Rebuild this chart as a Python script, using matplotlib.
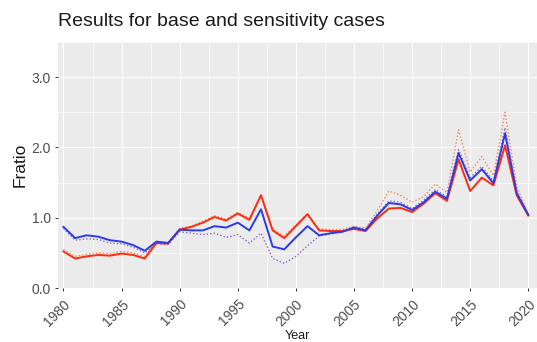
import matplotlib
matplotlib.use("Agg")
import matplotlib.pyplot as plt
from matplotlib.ticker import MultipleLocator

plt.rcParams['font.family'] = ['Liberation Sans', 'DejaVu Sans']

years = list(range(1980, 2021))

base_blue = [0.87, 0.71, 0.75, 0.73, 0.68, 0.66, 0.61, 0.53, 0.66, 0.64,
             0.83, 0.82, 0.82, 0.88, 0.86, 0.93, 0.82, 1.12, 0.59, 0.55,
             0.72, 0.88, 0.75, 0.78, 0.80, 0.86, 0.82, 1.03, 1.21, 1.19,
             1.11, 1.22, 1.37, 1.27, 1.92, 1.53, 1.69, 1.49, 2.20, 1.35,
             1.04]

base_red = [0.52, 0.42, 0.45, 0.47, 0.46, 0.49, 0.47, 0.42, 0.64, 0.63,
            0.83, 0.87, 0.93, 1.01, 0.96, 1.06, 0.97, 1.32, 0.82, 0.71,
            0.88, 1.05, 0.82, 0.81, 0.81, 0.84, 0.81, 0.99, 1.13, 1.14,
            1.08, 1.20, 1.35, 1.24, 1.83, 1.38, 1.57, 1.46, 2.03, 1.32,
            1.03]

sens_red = [0.55, 0.45, 0.48, 0.50, 0.49, 0.52, 0.50, 0.45, 0.66, 0.65,
            0.85, 0.88, 0.95, 1.03, 0.98, 1.08, 0.99, 1.33, 0.84, 0.74,
            0.90, 1.06, 0.84, 0.83, 0.83, 0.88, 0.85, 1.10, 1.38, 1.32,
            1.22, 1.30, 1.48, 1.36, 2.25, 1.65, 1.87, 1.60, 2.50, 1.45,
            1.05]

sens_blue = [0.85, 0.68, 0.70, 0.69, 0.64, 0.63, 0.58, 0.50, 0.63, 0.62,
             0.80, 0.78, 0.76, 0.78, 0.72, 0.76, 0.64, 0.78, 0.42, 0.35,
             0.45, 0.60, 0.74, 0.77, 0.80, 0.87, 0.84, 1.05, 1.24, 1.22,
             1.13, 1.25, 1.40, 1.30, 1.97, 1.57, 1.73, 1.52, 2.28, 1.38,
             1.05]

x_ticks = [1980, 1985, 1990, 1995, 2000, 2005, 2010, 2015, 2020]
y_ticks = [0.0, 1.0, 2.0, 3.0]

W, H = 537, 342
fig = plt.figure(figsize=(W / 100, H / 100), dpi=100)
ax = fig.add_axes([58 / W, (H - 288) / H, (537 - 58) / W, (288 - 42) / H])

ax.set_facecolor('#EBEBEB')
for s in ax.spines.values():
    s.set_visible(False)

ax.set_xlim(1979.53, 2020.75)
ax.set_ylim(0, 3.5)
ax.set_xticks(x_ticks)
ax.set_yticks(y_ticks)
ax.xaxis.set_minor_locator(MultipleLocator(2.5))
ax.yaxis.set_minor_locator(MultipleLocator(0.5))
ax.grid(which='major', color='white', linewidth=0.85)
ax.grid(which='minor', color='white', linewidth=0.45)
ax.set_axisbelow(True)
ax.tick_params(which='minor', length=0)
ax.tick_params(which='major', length=2.5, width=0.7, color='#333333',
               labelsize=10, labelcolor='#4D4D4D')
ax.tick_params(axis='x', pad=4)
ax.tick_params(axis='y', pad=2.5)
ax.set_yticklabels([f"{v:.1f}" for v in y_ticks])
ax.set_xticklabels([str(v) for v in x_ticks], rotation=45, ha='right',
                   va='top', rotation_mode='anchor')

ax.plot(years, sens_red, color='#F08A50', linestyle=(0, (1, 1.5)), linewidth=1.0)
ax.plot(years, sens_blue, color='#8A6AC8', linestyle=(0, (1, 1.5)), linewidth=1.0)
ax.plot(years, base_red, color='#FF2A10', linewidth=1.4)
ax.plot(years, base_blue, color='#2B3BE6', linewidth=1.4)

fig.text(297 / W, (H - 336) / H, 'Year', fontsize=9, color='#1A1A1A',
         ha='center', va='center')
fig.text(20 / W, (H - 165) / H, 'Fratio', fontsize=12.5, color='#1A1A1A',
         ha='center', va='center', rotation=90)
fig.text(58 / W, (H - 21) / H, 'Results for base and sensitivity cases',
         fontsize=14, color='#1A1A1A', ha='left', va='center')

fig.savefig('out.png', dpi=100)
